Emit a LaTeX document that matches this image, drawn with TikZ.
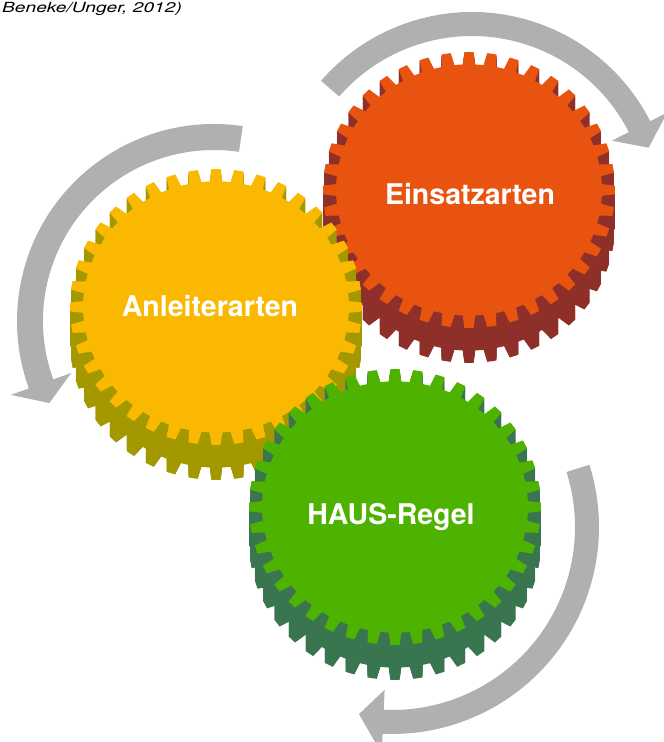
\documentclass[tikz,border=0pt]{standalone}
\usepackage{fontspec}
\setmainfont{TeX Gyre Heros}

\definecolor{orangeoben}{RGB}{233,83,16}
\definecolor{orangeseite}{RGB}{142,47,42}
\definecolor{gelboben}{RGB}{250,185,0}
\definecolor{gelbseite}{RGB}{163,152,0}
\definecolor{gruenoben}{RGB}{78,178,0}
\definecolor{gruenseite}{RGB}{57,118,80}
\definecolor{pfeilgrau}{RGB}{175,177,176}

% Zahnkranz mit 40 Zaehnen um (0,0)
\newcommand{\zahnrad}{(-2.7:133) \foreach \a in {0,9,...,351} {-- ({\a-2.7}:133) -- ({\a-1.8}:146) -- ({\a+1.8}:146) -- ({\a+2.7}:133)} -- cycle}

\begin{document}
\begin{tikzpicture}[x=1pt,y=1pt,
  pfeil/.style={fill=pfeilgrau},
  beschriftung/.style={text=white,anchor=base,font=\fontsize{28.5}{32}\selectfont\bfseries}]
  \useasboundingbox (0,0) rectangle (664,742);
  \clip (0,0) rectangle (664,742);

  \node[anchor=base west,inner sep=0pt] (quelle) at (2,729)
    {\scalebox{1.37}[1]{\fontsize{14}{16}\selectfont\itshape Beneke/Unger, 2012)}};

  % Pfeile
  \begin{scope}[shift={(472,530)}]
    \fill[pfeil] (139:200) arc[start angle=139, end angle=27, radius=200] -- (27:219) -- (20:188) -- (27:157) -- (27:176) arc[start angle=27, end angle=139, radius=176] -- cycle;
  \end{scope}
  \begin{scope}[shift={(214,421)}]
    \fill[pfeil] (81.6:197) arc[start angle=81.6, end angle=200, radius=197] -- (200:216) -- (206.5:184) -- (200:152) -- (200:171) arc[start angle=200, end angle=81.6, radius=171] -- cycle;
  \end{scope}
  \begin{scope}[shift={(392,215)}]
    \fill[pfeil] (17.5:207) arc[start angle=17.5, end angle=-92.6, radius=207] -- (-92.6:227) -- (-100:190) -- (-92.6:163) -- (-92.6:183) arc[start angle=-92.6, end angle=17.5, radius=183] -- cycle;
  \end{scope}

  % Zahnraeder
  \begin{scope}[shift={(469,552)},yscale=0.945]
    \foreach \d in {1,...,37} \fill[orangeseite,yshift=-\d] \zahnrad;
    \fill[orangeoben] \zahnrad;
  \end{scope}
  \node[beschriftung] (einsatz) at (470,537) {Einsatzarten};

  \begin{scope}[shift={(216,435)},yscale=0.945]
    \foreach \d in {1,...,37} \fill[gelbseite,yshift=-\d] \zahnrad;
    \fill[gelboben] \zahnrad;
  \end{scope}
  \node[beschriftung] (anleiter) at (210,425) {Anleiterarten};

  \begin{scope}[shift={(395,235)},yscale=0.945]
    \foreach \d in {1,...,37} \fill[gruenseite,yshift=-\d] \zahnrad;
    \fill[gruenoben] \zahnrad;
  \end{scope}
  \node[beschriftung] (haus) at (391,217) {HAUS-Regel};
\end{tikzpicture}
\end{document}
